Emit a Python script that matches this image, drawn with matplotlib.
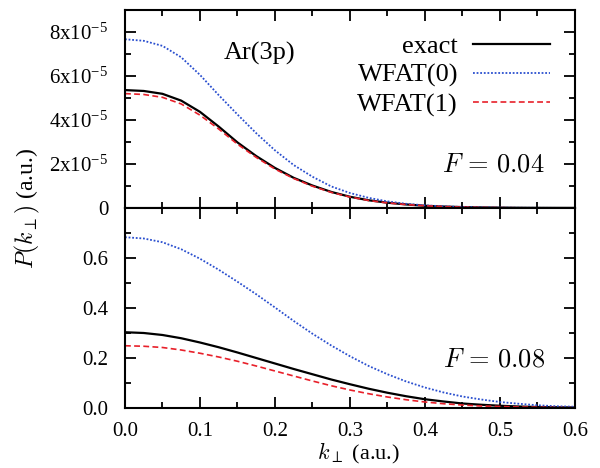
import numpy as np
import matplotlib
matplotlib.use('Agg')
import matplotlib.pyplot as plt
from matplotlib.ticker import MultipleLocator, FixedLocator, FixedFormatter

plt.rcParams['font.family'] = 'Liberation Serif'
plt.rcParams['mathtext.fontset'] = 'cm'

# transverse momentum grid (a.u.)
k_perp = [0.0, 0.025, 0.05, 0.075, 0.1, 0.125, 0.15, 0.175, 0.2, 0.225, 0.25, 0.275, 0.3,
          0.325, 0.35, 0.375, 0.4, 0.425, 0.45, 0.475, 0.5, 0.525, 0.55, 0.575, 0.6]

# F = 0.04, values in units of 1e-5
exact_f04 = [5.36, 5.32, 5.19, 4.88, 4.37, 3.70, 2.98, 2.36, 1.82, 1.37, 1.02, 0.73, 0.51,
             0.35, 0.24, 0.16, 0.10, 0.065, 0.04, 0.025, 0.015, 0.009, 0.005, 0.003, 0.002]
wfat0_f04 = [7.67, 7.60, 7.37, 6.85, 6.05, 5.13, 4.25, 3.40, 2.62, 1.95, 1.42, 0.98, 0.68,
             0.46, 0.30, 0.19, 0.12, 0.075, 0.045, 0.028, 0.017, 0.010, 0.006, 0.004, 0.002]
wfat1_f04 = [5.20, 5.16, 5.03, 4.73, 4.22, 3.59, 2.90, 2.30, 1.77, 1.34, 0.99, 0.71, 0.50,
             0.34, 0.23, 0.155, 0.10, 0.063, 0.038, 0.024, 0.014, 0.008, 0.005, 0.003, 0.002]

# F = 0.08
exact_f08 = [0.303, 0.300, 0.292, 0.279, 0.262, 0.243, 0.222, 0.200, 0.178, 0.156, 0.135, 0.114, 0.095,
             0.077, 0.061, 0.047, 0.035, 0.026, 0.018, 0.013, 0.009, 0.006, 0.004, 0.003, 0.002]
wfat0_f08 = [0.683, 0.678, 0.663, 0.635, 0.597, 0.553, 0.505, 0.455, 0.402, 0.348, 0.297, 0.250, 0.207,
             0.168, 0.135, 0.106, 0.082, 0.062, 0.046, 0.034, 0.024, 0.017, 0.011, 0.007, 0.005]
wfat1_f08 = [0.249, 0.247, 0.242, 0.232, 0.219, 0.204, 0.187, 0.168, 0.148, 0.128, 0.108, 0.089, 0.072,
             0.057, 0.044, 0.033, 0.024, 0.017, 0.012, 0.008, 0.006, 0.004, 0.003, 0.002, 0.001]

top_ticks = [0, 2e-5, 4e-5, 6e-5, 8e-5]
top_ticklabels = ['0', r'2x10$\mathregular{^{-5}}$', r'4x10$\mathregular{^{-5}}$',
                  r'6x10$\mathregular{^{-5}}$', r'8x10$\mathregular{^{-5}}$']

k = np.array(k_perp)
blue = '#2a4fcf'
red = '#e8202a'

fig = plt.figure(figsize=(6, 4.68), dpi=100)
ax1 = fig.add_axes([0.2083, 0.5556, 0.75, 0.423])
ax2 = fig.add_axes([0.2083, 0.1282, 0.75, 0.4274])

ax1.plot(k, np.array(exact_f04) * 1e-5, color='black', lw=1.6, label='exact')
ax1.plot(k, np.array(wfat0_f04) * 1e-5, color=blue, lw=1.3, ls=(0, (1, 1)), label='WFAT(0)')
ax1.plot(k, np.array(wfat1_f04) * 1e-5, color=red, lw=1.2, ls=(0, (3.5, 2)), label='WFAT(1)')

ax2.plot(k, exact_f08, color='black', lw=1.6)
ax2.plot(k, wfat0_f08, color=blue, lw=1.3, ls=(0, (1, 1)))
ax2.plot(k, wfat1_f08, color=red, lw=1.2, ls=(0, (3.5, 2)))

for ax in (ax1, ax2):
    ax.set_xlim(0, 0.6)
    ax.tick_params(which='both', direction='in', top=True, right=True, labelsize=15, width=1.3)
    ax.tick_params(which='major', length=8)
    ax.tick_params(which='minor', length=4)
    ax.tick_params(axis='y', pad=12)
    ax.tick_params(axis='x', pad=10)
    ax.xaxis.set_major_locator(FixedLocator([0.0, 0.1, 0.2, 0.3, 0.4, 0.5, 0.6]))
    ax.xaxis.set_minor_locator(MultipleLocator(0.05))
    for s in ax.spines.values():
        s.set_linewidth(1.5)

ax1.set_ylim(0, 9e-5)
ax1.yaxis.set_major_locator(FixedLocator(top_ticks))
ax1.yaxis.set_major_formatter(FixedFormatter(top_ticklabels))
ax1.yaxis.set_minor_locator(MultipleLocator(1e-5))
ax1.tick_params(labelbottom=False)

ax2.set_ylim(0, 0.8)
ax2.yaxis.set_major_locator(FixedLocator([0.0, 0.2, 0.4, 0.6]))
ax2.yaxis.set_major_formatter(FixedFormatter(['0.0', '0.2', '0.4', '0.6']))
ax2.yaxis.set_minor_locator(MultipleLocator(0.1))
ax2.xaxis.set_major_formatter(FixedFormatter(['0.0', '0.1', '0.2', '0.3', '0.4', '0.5', '0.6']))

ax1.legend(loc='upper right', frameon=False, markerfirst=False, fontsize=19,
           handlelength=2.9, labelspacing=0.21, borderaxespad=0, borderpad=0.4,
           handletextpad=0.57, bbox_to_anchor=(0.967, 0.93))
ax1.text(0.30, 0.78, 'Ar(3p)', transform=ax1.transAxes, fontsize=19, ha='center', va='center')
ax1.text(0.933, 0.217, r'$F\,=\,0.04$', transform=ax1.transAxes, fontsize=19, ha='right', va='center')
ax2.text(0.933, 0.24, r'$F\,=\,0.08$', transform=ax2.transAxes, fontsize=19, ha='right', va='center')

fig.text(0.045, 0.555, r'$P(k_\perp)$ (a.u.)', rotation=90, fontsize=17, ha='center', va='center')
fig.text(0.597, 0.03, r'$k_\perp$ (a.u.)', fontsize=16, ha='center', va='center')

fig.savefig('out.png', dpi=100)
